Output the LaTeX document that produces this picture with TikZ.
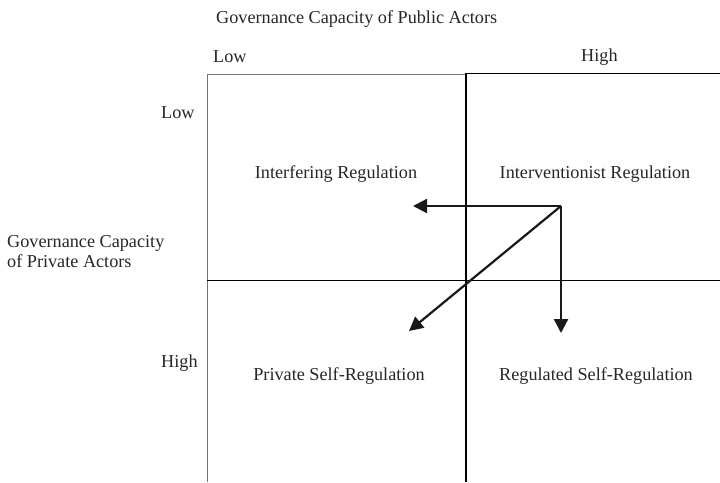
\documentclass[tikz,border=0pt]{standalone}
\usepackage{fontspec}
\setmainfont{Liberation Serif}
\usetikzlibrary{arrows.meta}
\tikzset{
  lbl/.style={inner sep=0pt, font=\fontsize{18.2}{20}\selectfont, text=black!85},
  grid/.style={line width=1pt, draw=black},
  gridgray/.style={line width=1pt, draw=black!55},
  move/.style={line width=2.2pt, draw=black!90, -{Triangle[length=14pt,width=14pt]}, line join=miter},
}
\begin{document}
\begin{tikzpicture}[x=1pt,y=-1pt]
\useasboundingbox (0,0) rectangle (720,482);
% grid
\draw[gridgray] (207,74) -- (466,74);
\draw[grid] (466,73) -- (720,73);
\draw[gridgray] (207,74) -- (207,482);
\draw[grid, line width=1.3pt] (466,73) -- (466,482);
\draw[grid] (207,280) -- (720,280);
% labels
\node[lbl, anchor=base west] (title) at (216,23) {Governance Capacity of Public Actors};
\node[lbl, anchor=base west] (lowtop) at (213,62) {Low};
\node[lbl, anchor=base west] (hightop) at (581,61) {High};
\node[lbl, anchor=base west] (lowleft) at (161,118) {Low};
\node[lbl, anchor=base west] (highleft) at (161,367) {High};
\node[lbl, anchor=base west] (gcp1) at (7,247) {Governance Capacity};
\node[lbl, anchor=base west] (gcp2) at (7,267) {of Private Actors};
\node[lbl, anchor=base] (q1) at (336,178) {Interfering Regulation};
\node[lbl, anchor=base] (q2) at (595,178) {Interventionist Regulation};
\node[lbl, anchor=base] (q3) at (339,380) {Private Self-Regulation};
\node[lbl, anchor=base] (q4) at (596,380) {Regulated Self-Regulation};
% arrows
\coordinate (o) at (561,206);
\coordinate (l) at (413,206);
\coordinate (d) at (561,333);
\coordinate (g) at (409,331);
\draw[move] (o) -- (l);
\draw[move] (o) -- (d);
\draw[move] (o) -- (g);
\end{tikzpicture}
\end{document}
